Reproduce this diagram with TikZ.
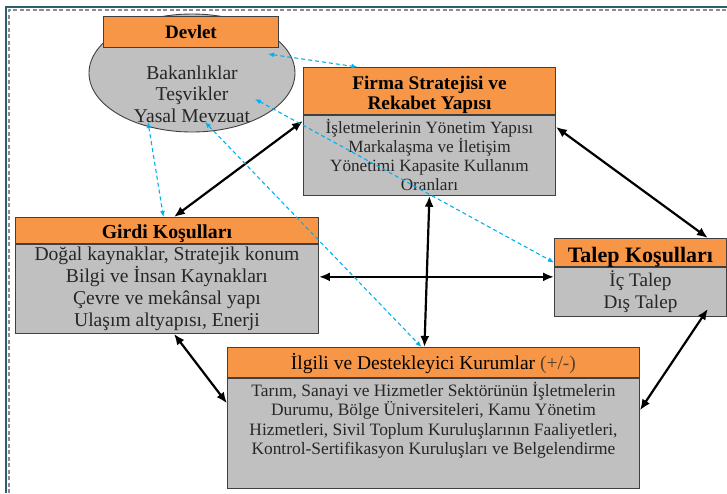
\documentclass[tikz,border=0pt]{standalone}
\usepackage{fontspec}
\setmainfont{Liberation Serif}
\usetikzlibrary{arrows.meta, positioning, shapes.geometric}
\definecolor{kb-orange}{RGB}{247, 150, 70}
\definecolor{kb-grey}{RGB}{192, 192, 192}
\definecolor{kb-blue}{RGB}{0, 176, 240}
\definecolor{kb-frame}{RGB}{47, 95, 110}
\definecolor{kb-brown}{RGB}{85, 65, 45}

\begin{document}
\begin{tikzpicture}[
    x=1pt, y=-1pt,
    head/.style={rectangle, draw=black!75, line width=0.9pt, fill=kb-orange,
                 anchor=north west, align=center, inner sep=1pt,
                 font=\fontsize{19.8}{20}\selectfont\bfseries},
    body/.style={rectangle, draw=black!75, line width=0.9pt, fill=kb-grey,
                 align=center, inner sep=1pt, text=black!85,
                 font=\fontsize{19.6}{22}\selectfont},
    arr/.style={{Latex[length=11pt,width=9pt]}-{Latex[length=11pt,width=9pt]},
                line width=2.2pt, black},
    darr/.style={{Latex[length=6pt,width=5pt]}-{Latex[length=6pt,width=5pt]},
                 line width=1.1pt, kb-blue, dash pattern=on 4pt off 3pt},
    node distance=0pt
  ]
    \useasboundingbox (0,0) rectangle (727,493);
    % frame
    \draw[kb-frame, line width=2pt] (6,493) -- (6,7) -- (727,7);
    \draw[black!45, line width=1.5pt, dash pattern=on 4pt off 2.5pt] (9,493) -- (9,10) -- (727,10);

    \node[ellipse, draw=black!75, line width=0.9pt, fill=kb-grey,
          minimum width=206pt, minimum height=118pt] (devletbody) at (192,73) {};
    \node[head, minimum width=175pt, minimum height=31pt,
          font=\fontsize{19}{20}\selectfont\bfseries] (devlet) at (103,16) {Devlet};
    \node[align=center, text=black!85, font=\fontsize{19.6}{21.5}\selectfont]
          (devlettext) at (192,94) {Bakanlıklar\\Teşvikler\\Yasal Mevzuat};

    \node[head, minimum width=252pt, minimum height=47pt, inner ysep=0pt,
          font=\fontsize{19.3}{20}\selectfont\bfseries] (firma) at (303,67)
          {\rule{0pt}{22pt}Firma Stratejisi ve\\Rekabet Yapısı};
    \node[body, below=of firma, minimum width=252pt, minimum height=80pt,
          font=\fontsize{17.2}{19}\selectfont] (firmabody)
          {İşletmelerinin Yönetim Yapısı\\Markalaşma ve İletişim\\Yönetimi Kapasite Kullanım\\Oranları};

    \node[head, minimum width=303pt, minimum height=26pt, text height=17pt, text depth=0pt]
          (girdi) at (15,217) {Girdi Koşulları};
    \node[body, below=of girdi, minimum width=303pt, minimum height=89pt] (girdibody)
          {Doğal kaynaklar, Stratejik konum\\Bilgi ve İnsan Kaynakları\\Çevre ve mekânsal yapı\\Ulaşım altyapısı, Enerji};

    \node[head, minimum width=172pt, minimum height=28pt, text height=20pt, text depth=0pt,
          font=\fontsize{22}{24}\selectfont\bfseries] (talep) at (554,238) {Talep Koşulları};
    \node[body, below=of talep, minimum width=172pt, minimum height=49pt,
          font=\fontsize{19.2}{21.5}\selectfont] (talepbody) {İç Talep\\Dış Talep};

    \node[head, minimum width=412pt, minimum height=30pt, text height=15pt, text depth=0pt,
          font=\fontsize{19.5}{21}\selectfont] (ilgili) at (227,347)
          {İlgili ve Destekleyici Kurumlar \textcolor{kb-brown}{(+/-)}};
    \node[body, below=of ilgili, minimum width=412pt, minimum height=110pt] (ilgilibody) {};
    \node[align=center, text=black!85, font=\fontsize{17.4}{19.5}\selectfont]
          (ilgilitext) at ([yshift=13pt]ilgilibody.center)
          {Tarım, Sanayi ve Hizmetler Sektörünün İşletmelerin\\Durumu, Bölge Üniversiteleri, Kamu Yönetim\\Hizmetleri, Sivil Toplum Kuruluşlarının Faaliyetleri,\\Kontrol-Sertifikasyon Kuruluşları ve Belgelendirme};

    \draw[arr] ([xshift=7pt]girdi.north) -- ([yshift=-6pt]firmabody.north west);
    \draw[arr] ([yshift=-12pt]firmabody.north east) -- ([xshift=-19pt]talep.north east);
    \draw[arr] ([yshift=12pt]girdibody.east) -- ([yshift=15pt]talepbody.west);
    \draw[arr] (firmabody.south) -- ([xshift=-9pt]ilgili.north);
    \draw[arr] ([xshift=7pt]girdibody.south) -- ([yshift=30pt]ilgilibody.west);
    \draw[arr] ([xshift=-19pt,yshift=8pt]talepbody.south east) -- ([yshift=23pt]ilgilibody.east);

    \draw[darr] ([xshift=76pt,yshift=19pt]devletbody.center) -- ([xshift=-72pt]firma.north);
    \draw[darr] ([xshift=-44pt,yshift=-49pt]devletbody.center) -- ([xshift=-3.5pt]girdi.north);
    \draw[darr] ([xshift=63pt,yshift=-26pt]devletbody.center) -- ([yshift=-10pt]talep.west);
    \draw[darr] ([xshift=13pt,yshift=-49pt]devletbody.center) -- ([xshift=-12pt]ilgili.north);
\end{tikzpicture}
\end{document}
